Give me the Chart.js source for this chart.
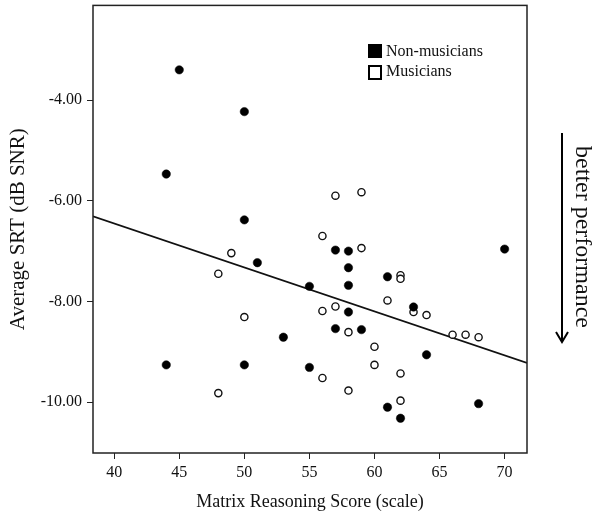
<!DOCTYPE html>
<html>
<head>
<meta charset="utf-8">
<script src="https://cdn.jsdelivr.net/npm/chart.js@4/dist/chart.umd.min.js"></script>
<style>
  html, body { margin: 0; padding: 0; background: #fff; }
  #wrap { width: 602px; height: 513px; }
</style>
</head>
<body>
<div id="wrap"><canvas id="myChart" width="602" height="513"></canvas></div>
<script>
// Non-musicians (filled)
const nonMusX = [45, 50, 44, 50, 44, 50, 51, 53, 55, 55, 57, 58, 58, 58, 61, 63, 58, 57, 59, 64, 61, 62, 68, 70];
const nonMusY = [-3.40, -4.23, -5.47, -6.38, -9.26, -9.26, -7.23, -8.71, -7.70, -9.31, -6.98, -7.00, -7.33, -7.68, -7.51, -8.11, -8.21, -8.54, -8.56, -9.06, -10.10, -10.32, -10.03, -6.96];

// Musicians (open)
const musX = [57, 59, 56, 59, 62, 62, 61, 49, 48, 50, 48, 56, 57, 63, 64, 66, 67, 68, 58, 60, 60, 56, 62, 58, 62];
const musY = [-5.90, -5.83, -6.70, -6.94, -7.48, -7.55, -7.98, -7.04, -7.45, -8.31, -9.82, -8.19, -8.10, -8.21, -8.27, -8.66, -8.66, -8.71, -8.61, -8.90, -9.26, -9.52, -9.43, -9.77, -9.97];

// fit line end points
const fitX = [38.37, 71.72];
const fitY = [-6.31, -9.22];

const xTicks = [40, 45, 50, 55, 60, 65, 70];
const yTicks = [-4, -6, -8, -10];

const legendLabels = ['Non-musicians', 'Musicians'];
const xTitle = 'Matrix Reasoning Score (scale)';
const yTitle = 'Average SRT (dB SNR)';
const sideNote = 'better performance';

const serif = '"Liberation Serif", "Times New Roman", serif';

function pts(xs, ys) {
  return xs.map((x, i) => ({ x: x, y: ys[i] }));
}

const extras = {
  id: 'extras',
  afterDraw(chart) {
    const ctx = chart.ctx;
    const a = chart.chartArea;
    ctx.save();
    // box
    ctx.strokeStyle = '#222';
    ctx.lineWidth = 1.5;
    ctx.strokeRect(a.left, a.top, a.right - a.left, a.bottom - a.top);

    // legend
    ctx.font = '16px ' + serif;
    ctx.textBaseline = 'middle';
    ctx.fillStyle = '#000';
    ctx.fillRect(368, 44, 14, 14);
    ctx.lineWidth = 2;
    ctx.strokeStyle = '#000';
    ctx.strokeRect(369, 66, 12, 13);
    ctx.fillStyle = '#111';
    ctx.fillText(legendLabels[0], 386, 52);
    ctx.fillText(legendLabels[1], 386, 72);

    // side arrow
    ctx.lineWidth = 2;
    ctx.beginPath();
    ctx.moveTo(562, 133);
    ctx.lineTo(562, 341);
    ctx.stroke();
    ctx.beginPath();
    ctx.moveTo(556, 332);
    ctx.lineTo(562, 342);
    ctx.lineTo(568, 332);
    ctx.stroke();

    // side text
    ctx.translate(582, 237);
    ctx.rotate(Math.PI / 2);
    ctx.font = '24px ' + serif;
    ctx.textAlign = 'center';
    ctx.textBaseline = 'middle';
    ctx.fillText(sideNote, 0, 0);
    ctx.restore();
  }
};

const chart = new Chart(document.getElementById('myChart').getContext('2d'), {
  type: 'scatter',
  data: {
    datasets: [
      {
        label: legendLabels[0],
        data: pts(nonMusX, nonMusY),
        pointRadius: 4.2,
        pointBackgroundColor: '#000',
        pointBorderColor: '#000',
        pointBorderWidth: 0.5
      },
      {
        label: legendLabels[1],
        data: pts(musX, musY),
        pointRadius: 3.6,
        pointBackgroundColor: '#fff',
        pointBorderColor: '#111',
        pointBorderWidth: 1.4
      },
      {
        type: 'line',
        label: 'fit',
        data: pts(fitX, fitY),
        borderColor: '#111',
        borderWidth: 1.6,
        pointRadius: 0,
        fill: false
      }
    ]
  },
  options: {
    responsive: false,
    animation: false,
    layout: { padding: { top: 5, right: 75, left: 0, bottom: 0 } },
    plugins: {
      legend: { display: false },
      tooltip: { enabled: false }
    },
    scales: {
      x: {
        type: 'linear',
        min: 38.37,
        max: 71.72,
        afterBuildTicks: (s) => { s.ticks = xTicks.map(v => ({ value: v })); },
        afterFit: (s) => { s.height = 60; s.paddingLeft = 0; s.paddingRight = 0; },
        border: { display: false },
        grid: { drawOnChartArea: false, drawTicks: true, tickLength: 6, color: '#222', lineWidth: 1 },
        ticks: { color: '#111', font: { family: serif, size: 16 }, padding: 4 },
        title: { display: true, text: xTitle, color: '#111', font: { family: serif, size: 18 }, padding: { top: 0, bottom: 0 } }
      },
      y: {
        type: 'linear',
        min: -11.01,
        max: -2.12,
        afterBuildTicks: (s) => { s.ticks = yTicks.map(v => ({ value: v })); },
        afterFit: (s) => { s.width = 93; s.paddingTop = 0; s.paddingBottom = 0; },
        border: { display: false },
        grid: { drawOnChartArea: false, drawTicks: true, tickLength: 6, color: '#222', lineWidth: 1 },
        ticks: {
          color: '#111',
          font: { family: serif, size: 16 },
          padding: 5,
          callback: (v) => Number(v).toFixed(2)
        },
        title: { display: true, text: yTitle, color: '#111', font: { family: serif, size: 21 }, padding: { top: 6, bottom: 0 } }
      }
    }
  },
  plugins: [extras]
});
</script>
</body>
</html>
